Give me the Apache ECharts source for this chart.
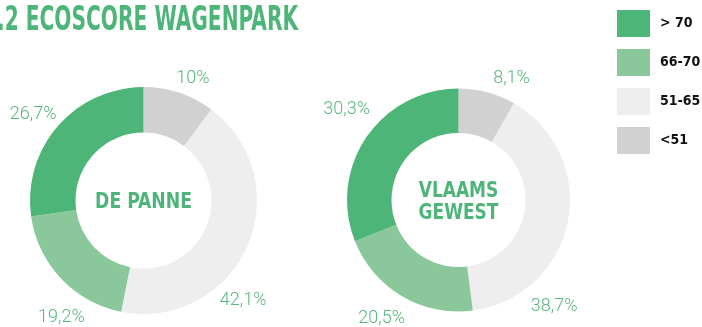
<!DOCTYPE html>
<html>
<head>
<meta charset="utf-8">
<script src="https://cdn.jsdelivr.net/npm/echarts@6/dist/echarts.min.js"></script>
<style>
  html, body { margin: 0; padding: 0; background: #fff; }
  #chart { width: 702px; height: 327px; }
</style>
</head>
<body>
<div id="chart"></div>
<script>
// Ecoscore classes, in clockwise order starting at 12 o'clock
const classes = ['<51', '51-65', '66-70', '> 70'];
const legendOrder = ['> 70', '66-70', '51-65', '<51'];
const dePanne = [10, 42.1, 19.2, 26.7];
const vlaamsGewest = [8.1, 38.7, 20.5, 30.3];

const colors = {
  '> 70': '#4db577',
  '66-70': '#8ac79a',
  '51-65': '#efeeef',
  '<51': '#d1d1d1'
};
const green = '#4db577';
const labelGreen = '#55b77b';
const condensed = '"DejaVu Sans Condensed", "Liberation Sans Narrow", sans-serif';

// label placement around each ring: [angle from 12 o'clock in degrees, distance from centre]
const pieLayout = [
  { center: [143.5, 200.5], radius: [68, 113.5],
    labelPos: [[22, 132], [135, 141], [215, 143], [308, 140]] },
  { center: [458.5, 200], radius: [67, 111.5],
    labelPos: [[23.5, 133], [138, 143], [213, 141], [309, 144]] }
];

function fmt(v) {
  return String(v).replace('.', ',') + '%';
}

function pieSeries(values, layout) {
  return {
    type: 'pie',
    center: layout.center,
    radius: layout.radius,
    startAngle: 90,
    clockwise: true,
    silent: true,
    animation: false,
    avoidLabelOverlap: false,
    itemStyle: { borderWidth: 0 },
    label: {
      show: true,
      position: 'outside',
      formatter: p => fmt(p.value),
      color: labelGreen,
      fontFamily: 'Roboto, sans-serif',
      fontWeight: 300,
      fontSize: 18
    },
    labelLine: { show: false },
    labelLayout: function (p) {
      const lp = layout.labelPos[p.dataIndex];
      const a = lp[0] * Math.PI / 180;
      return {
        x: layout.center[0] + lp[1] * Math.sin(a),
        y: layout.center[1] - lp[1] * Math.cos(a),
        align: 'center',
        verticalAlign: 'middle'
      };
    },
    data: classes.map((c, i) => ({
      name: c,
      value: values[i],
      itemStyle: { color: colors[c] }
    }))
  };
}

const chart = echarts.init(document.getElementById('chart'), null, { renderer: 'canvas' });
chart.setOption({
  backgroundColor: '#ffffff',
  animation: false,
  legend: {
    data: legendOrder,
    orient: 'vertical',
    left: 612,
    top: 5,
    icon: 'rect',
    itemWidth: 33,
    itemHeight: 27,
    itemGap: 12,
    selectedMode: false,
    textStyle: {
      color: '#111',
      fontFamily: condensed,
      fontWeight: 'bold',
      fontSize: 14,
      padding: [0, 0, 0, 5]
    }
  },
  graphic: [
    {
      type: 'text', left: -3, top: 5,
      scaleX: 0.68,
      style: {
        text: '.2 ECOSCORE WAGENPARK',
        fill: green,
        font: 'bold 33px ' + condensed
      }
    },
    {
      type: 'text', x: 143.5, y: 202,
      scaleX: 0.87,
      style: {
        text: 'DE PANNE',
        fill: green,
        font: 'bold 22px ' + condensed,
        align: 'center',
        verticalAlign: 'middle'
      }
    },
    {
      type: 'text', x: 458.5, y: 202,
      scaleX: 0.86,
      style: {
        text: 'VLAAMS\nGEWEST',
        fill: green,
        font: 'bold 22px ' + condensed,
        lineHeight: 22,
        align: 'center',
        verticalAlign: 'middle'
      }
    }
  ],
  series: [
    pieSeries(dePanne, pieLayout[0]),
    pieSeries(vlaamsGewest, pieLayout[1])
  ]
});
</script>
</body>
</html>
